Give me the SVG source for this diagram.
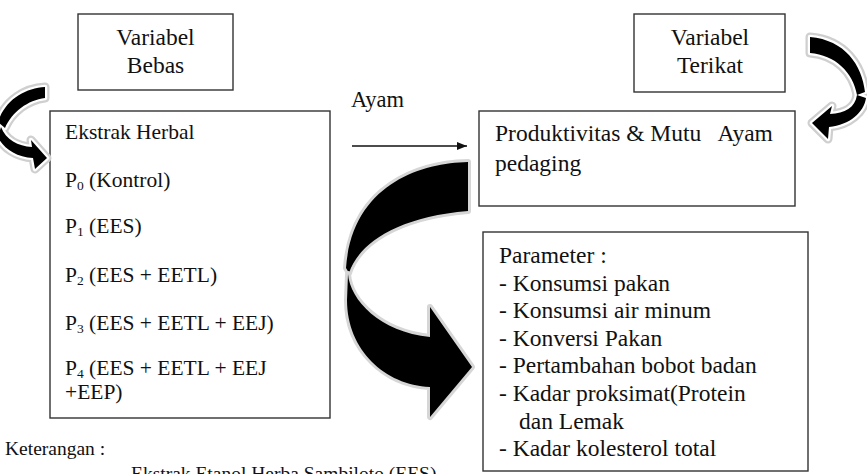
<svg xmlns="http://www.w3.org/2000/svg" width="867" height="474" viewBox="0 0 867 474" font-family="'Liberation Serif', 'Times New Roman', serif">
<style>
.box{fill:#fff;stroke:#333;stroke-width:1.4}
text{font-family:"Liberation Serif","Times New Roman",serif;fill:#111}
.l{font-size:21.5px}
.r{font-size:23.5px}
.sub{font-size:13.5px}
.big{fill:#000;stroke:#d6d6d6;stroke-width:6;paint-order:stroke;stroke-linejoin:round}
.smg{fill:none;stroke:#cfcfcf;stroke-width:9;stroke-linejoin:round}
.smw{fill:none;stroke:#fff;stroke-width:4.5;stroke-linejoin:round}
.smb{fill:#000}
</style>
<defs>
<marker id="ah" markerWidth="10" markerHeight="8" refX="10" refY="4" orient="auto" markerUnits="userSpaceOnUse">
<path d="M0,0 L10,4 L0,8 Z" fill="#111"/>
</marker>
<path id="L1" d="M45,87 C25,88 5,100 -2,122 L5,128 C12,112 28,100 45,98 Z"/>
<path id="L2" d="M1,127 C6,140 18,146 32,147 L31,140 L47,158 L35,169 L33,158 C16,157 3,148 -2,137 Z"/>
<path id="R1" d="M810,37 C845,40 862,65 865,92 L857,95 C853,72 835,55 810,53 Z"/>
<path id="R2" d="M857,95 C855,108 845,113 830,114 L832,106 L812,123 L828,139 L829,127 C850,125 864,112 866,98 Z"/>
</defs>

<g id="bebas">
<rect class="box" x="78" y="14" width="155" height="76"/>
<text class="r" x="155.5" y="45" text-anchor="middle">Variabel</text>
<text class="r" x="155.5" y="72.5" text-anchor="middle">Bebas</text>
</g>

<g id="terikat">
<rect class="box" x="634" y="14" width="151" height="78"/>
<text class="r" x="710" y="45" text-anchor="middle">Variabel</text>
<text class="r" x="710" y="72.5" text-anchor="middle">Terikat</text>
</g>

<g id="ekstrak">
<rect class="box" x="50" y="111" width="280" height="307"/>
<text class="l" x="65" y="139">Ekstrak Herbal</text>
<text class="l" x="65" y="187">P<tspan class="sub" dy="3">0</tspan><tspan dy="-3"> (Kontrol)</tspan></text>
<text class="l" x="65" y="233">P<tspan class="sub" dy="3">1</tspan><tspan dy="-3"> (EES)</tspan></text>
<text class="l" x="65" y="282">P<tspan class="sub" dy="3">2</tspan><tspan dy="-3"> (EES + EETL)</tspan></text>
<text class="l" x="65" y="330">P<tspan class="sub" dy="3">3</tspan><tspan dy="-3"> (EES + EETL + EEJ)</tspan></text>
<text class="l" x="65" y="375">P<tspan class="sub" dy="3">4</tspan><tspan dy="-3"> (EES + EETL + EEJ</tspan></text>
<text class="l" x="65" y="399">+EEP)</text>
</g>

<g id="produktivitas">
<rect class="box" x="479" y="111" width="316" height="95"/>
<text class="r" x="495" y="140.5" xml:space="preserve">Produktivitas &amp; Mutu   Ayam</text>
<text class="r" x="495" y="170.5">pedaging</text>
</g>

<g id="parameter">
<rect class="box" x="483" y="232" width="325" height="239"/>
<text class="r" x="499" y="263">Parameter :</text>
<text class="r" x="499" y="290.5">- Konsumsi pakan</text>
<text class="r" x="499" y="318">- Konsumsi air minum</text>
<text class="r" x="499" y="345.5">- Konversi Pakan</text>
<text class="r" x="499" y="373">- Pertambahan bobot badan</text>
<text class="r" x="499" y="401">- Kadar proksimat(Protein</text>
<text class="r" x="519" y="428.5">dan Lemak</text>
<text class="r" x="499" y="456">- Kadar kolesterol total</text>
</g>

<g id="keterangan">
<text x="5" y="455" style="font-size:19.5px">Keterangan :</text>
<text x="131" y="480" style="font-size:19.5px">Ekstrak Etanol Herba Sambiloto (EES)</text>
</g>

<g id="connectors">
<text x="351" y="107" style="font-size:22.5px">Ayam</text>
<line x1="352" y1="146" x2="467" y2="146" stroke="#111" stroke-width="1.5" marker-end="url(#ah)"/>
<path class="big" d="M468,162 C420,163 352,185 346,268 L349,273 C358,245 395,217 468,211 Z"/>
<path class="big" d="M348,274 C350,300 380,332 430,337 L430,307 L472,367 L430,417 L430,387 C385,385 347,350 347,300 Z"/>
<use href="#L1" class="smg"/><use href="#L2" class="smg"/>
<use href="#L1" class="smw"/><use href="#L2" class="smw"/>
<use href="#L1" class="smb"/><use href="#L2" class="smb"/>
<use href="#R1" class="smg"/><use href="#R2" class="smg"/>
<use href="#R1" class="smw"/><use href="#R2" class="smw"/>
<use href="#R1" class="smb"/><use href="#R2" class="smb"/>
</g>
</svg>
